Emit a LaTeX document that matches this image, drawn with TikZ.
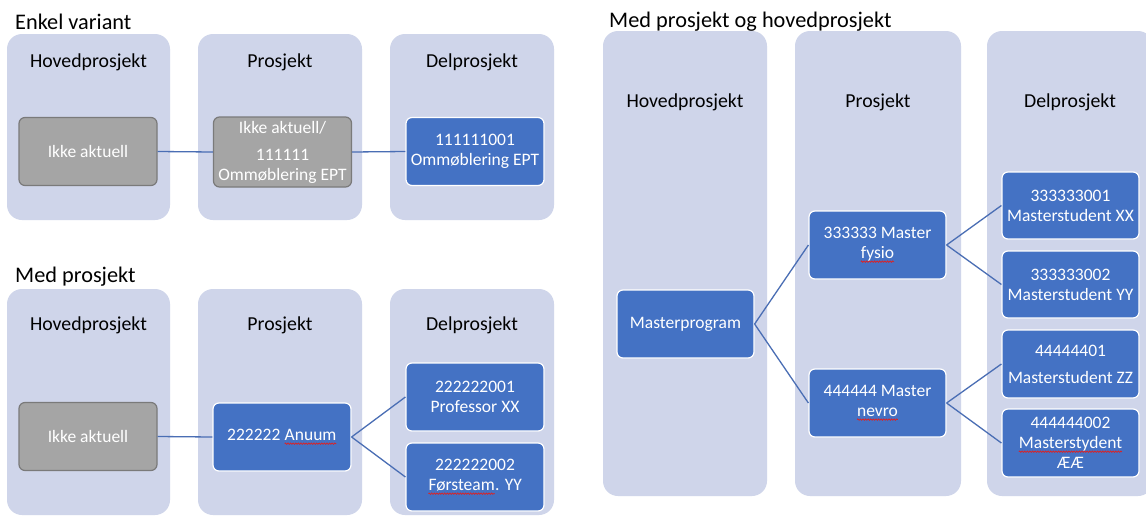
\documentclass[tikz,border=0pt]{standalone}
\usepackage{fontspec}
\setmainfont{Carlito}
\usetikzlibrary{decorations.pathmorphing}
\definecolor{colfill}{HTML}{CFD5EA}
\definecolor{nodeblue}{HTML}{4472C4}
\definecolor{nodegray}{HTML}{A5A5A5}
\definecolor{graydraw}{HTML}{7A7A7A}
\definecolor{linkblue}{HTML}{4A6EB4}
\definecolor{squig}{HTML}{E02020}
\newcommand\sq[1]{\tikz[baseline=(w.base)]{\node[inner sep=0pt,outer sep=0pt,text=white,draw=none,fill=none,minimum size=0pt](w){#1};\draw[squig,line width=0.7pt,rounded corners=0pt,decorate,decoration={zigzag,amplitude=0.7pt,segment length=2.6pt}] ([yshift=-3pt]w.base west) -- ([yshift=-3pt]w.base east);}}
\tikzset{
  column/.style={fill=colfill, rounded corners=15pt, draw=none},
  head/.style={font=\fontsize{19.8}{23}\selectfont, text=black, inner sep=0},
  title/.style={font=\fontsize{22.3}{26}\selectfont, text=black, inner sep=0, anchor=base west},
  bluebox/.style={fill=nodeblue, draw=white, line width=1.2pt, rounded corners=6pt,
    text=white, align=center, font=\fontsize{17.5}{20}\selectfont, inner sep=0,
    minimum width=138pt, minimum height=68pt},
  graybox/.style={bluebox, fill=nodegray, draw=graydraw},
  link/.style={draw=linkblue, line width=1.3pt}
}
\begin{document}
\begin{tikzpicture}[x=1pt,y=-1pt]
\useasboundingbox (0,0) rectangle (1146,517);
\fill[white] (0,0) rectangle (1146,517);
\begin{scope}
\clip (0,0) rectangle (1146,517);
% Enkel variant
\node[title] (t1) at (15,29) {Enkel variant};
\fill[column] (7,34) rectangle (170,220);
\fill[column] (198,34) rectangle (362,220);
\fill[column] (390,34) rectangle (554,220);
\node[head] (h1a) at (88.5,62) {Hovedprosjekt};
\node[head] (h1b) at (280,62) {Prosjekt};
\node[head] (h1c) at (472,62) {Delprosjekt};
\node[graybox] (e1) at (88,151.5) {Ikke aktuell};
\node[graybox, minimum height=70pt] (e2) at (282.5,152) {Ikke aktuell/\\[7pt]111111\\Ommøblering EPT};
\node[bluebox] (e3) at (475,151.5) {111111001\\Ommøblering EPT};
\draw[link] (e1.east) -- (e2.west);
\draw[link] (e2.east) -- (e3.west);
% Med prosjekt
\node[title] (t2) at (15,282) {Med prosjekt};
\fill[column] (7,289) rectangle (170,515);
\fill[column] (198,289) rectangle (362,515);
\fill[column] (390,289) rectangle (554,515);
\node[head] (h2a) at (88.5,325) {Hovedprosjekt};
\node[head] (h2b) at (280,325) {Prosjekt};
\node[head] (h2c) at (472,325) {Delprosjekt};
\node[graybox] (m1) at (88,436.5) {Ikke aktuell};
\node[bluebox] (m2) at (282,437) {222222 \sq{Anuum}};
\node[bluebox] (m3) at (475,397) {222222001\\Professor XX};
\node[bluebox] (m4) at (475,477) {222222002\\\sq{Førsteam}. YY};
\draw[link] (m1.east) -- (m2.west);
\draw[link] (m2.east) -- (m3.west);
\draw[link] (m2.east) -- (m4.west);
% Med prosjekt og hovedprosjekt
\node[title] (t3) at (609,27) {Med prosjekt og hovedprosjekt};
\fill[column] (603,31) rectangle (767,496);
\fill[column] (795,31) rectangle (961,496);
\fill[column] (987,31) rectangle (1153,496);
\node[head] (h3a) at (685,102) {Hovedprosjekt};
\node[head] (h3b) at (878,102) {Prosjekt};
\node[head] (h3c) at (1070,102) {Delprosjekt};
\node[bluebox, minimum width=137pt] (r1) at (685.5,324) {Masterprogram};
\node[bluebox, minimum width=137pt] (r2) at (877.5,245) {333333 Master\\\sq{fysio}};
\node[bluebox, minimum width=137pt] (r3) at (877.5,403) {444444 Master\\\sq{nevro}};
\node[bluebox, minimum width=137pt, minimum height=67pt] (r4) at (1070.5,205.5) {333333001\\Masterstudent XX};
\node[bluebox, minimum width=137pt, minimum height=67pt] (r5) at (1070.5,284.5) {333333002\\Masterstudent YY};
\node[bluebox, minimum width=137pt] (r6) at (1070.5,364) {44444401\\[7pt]Masterstudent ZZ};
\node[bluebox, minimum width=137pt] (r7) at (1070.5,443) {444444002\\\sq{Masterstydent}\\ÆÆ};
\draw[link] (r1.east) -- (r2.west);
\draw[link] (r1.east) -- (r3.west);
\draw[link] (r2.east) -- (r4.west);
\draw[link] (r2.east) -- (r5.west);
\draw[link] (r3.east) -- (r6.west);
\draw[link] (r3.east) -- (r7.west);
\end{scope}
\end{tikzpicture}
\end{document}
